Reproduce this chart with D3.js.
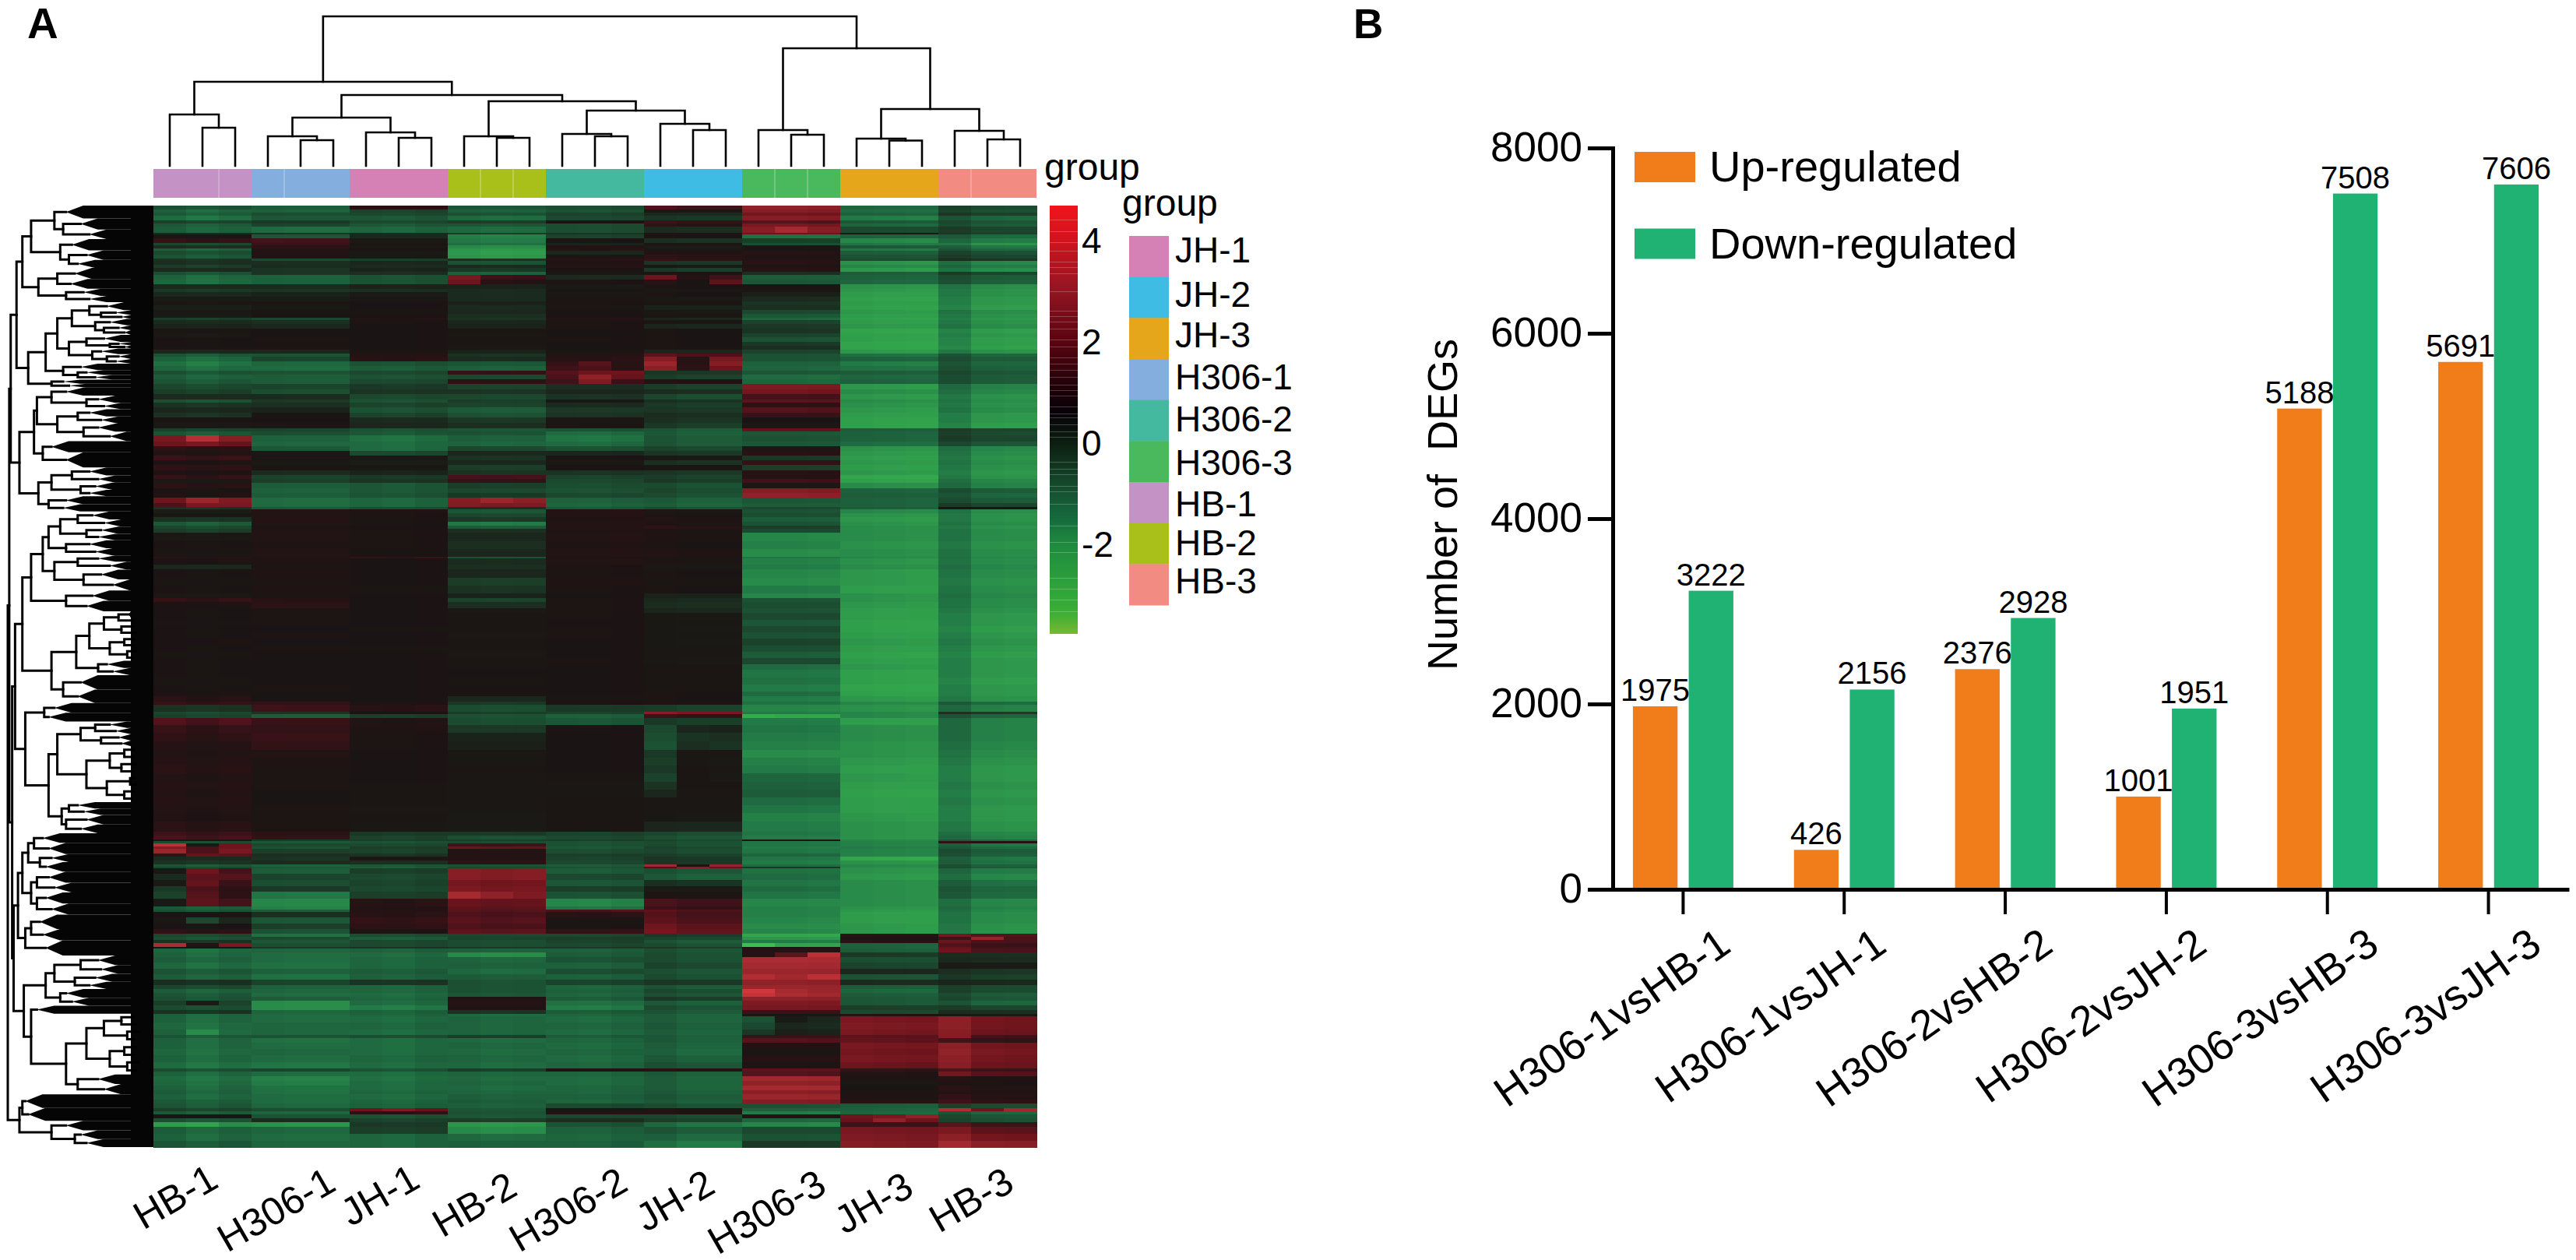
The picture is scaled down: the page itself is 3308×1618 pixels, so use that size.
<!DOCTYPE html>
<html>
<head>
<meta charset="utf-8">
<title>DEGs heatmap</title>
<script src="https://cdnjs.cloudflare.com/ajax/libs/d3/7.8.5/d3.min.js"></script>
<style>
  body { margin: 0; background: #fff; }
  text { font-family: "Liberation Sans", Arial, sans-serif; fill: #000; }
</style>
</head>
<body>
<div id="chart"></div>
<script>
// ---- panel A data ----
const sampleGroups = ["HB-1", "H306-1", "JH-1", "HB-2", "H306-2", "JH-2", "H306-3", "JH-3", "HB-3"];
const groupColors = ["#c492c4", "#84aedd", "#d581b5", "#a9c01b", "#44b9a0", "#3fbce4", "#4ab85c", "#e6a61c", "#f28c83"];
const legendGroups = ["JH-1", "JH-2", "JH-3", "H306-1", "H306-2", "H306-3", "HB-1", "HB-2", "HB-3"];
const scaleTicks = [4, 2, 0, -2];

// colour key values
const keyValues = [4.67, 4, 3, 2, 1, 0.6, 0, -1, -1.5, -2, -3, -3.4, -3.78];
const keyColors = ["#f0141c", "#d0141e", "#921522", "#5a0410", "#1a0208", "#080208", "#0c1e10", "#165232", "#156a3c", "#1f8a3f", "#2fa83a", "#3fae35", "#78b832"];
const keyStripes = [4.39, 4.17, 3.95, 3.78, 3.56, 3.45, 3.34, 2.98, 2.6, 2.49, 2.38, 2.24, 2.02, 1.88, 1.67, 1.55, 1.42, 1.28, 1.14, 1.03, 0.92, 0.7, 0.56, 0.48, 0.34, 0.21, 0.1, -0.39, -0.53, -0.64, -0.87, -0.98, -1.22, -1.66, -1.97, -2.18, -2.68, -2.9, -3.12, -3.34];

// how the cells look in the heatmap itself (a bit paler than the key)
const heatValues = [-3.6, -3, -2.6, -2, -1.5, -1, -0.5, 0, 0.5, 1, 1.5, 2, 3, 4];
const heatColors = ["#3cc04a", "#34a84c", "#2f9c4c", "#227a46", "#1d603c", "#1b482e", "#1b2e20", "#1a1c16", "#1b1414", "#271214", "#44121a", "#6e141c", "#a52a30", "#dc3a40"];

// small shift of each replicate inside its group
const replicateShift = [0.1, -0.2, 0.05, 0, -0.05, -0.05, 0, -0.1, 0.1, 0.05, -0.05, 0, 0, -0.05, 0.1, 0.25, 0, 0, 0, 0, -0.05, 0, -0.05, -0.1, 0.35, -0.1, -0.15];
const seamColumns = [2, 4, 10, 11, 19, 20, 25];

// [genes in band, then one value per group; a nested array gives the three replicates]
const heatBands = [
  [5, -1.2, -1.4, 0.9, -1.3, -1.1, 1.4, 2.6, -1.6, -1.0],
  [4, -1.6, -1.5, -0.9, -1.5, -1.2, 0.3, 2.4, -1.7, -1.1],
  [4, -1.4, -1.1, -1.0, -1.2, -0.9, -0.4, 2.1, -1.5, -0.8],
  [6, -1.8, -1.3, -1.3, -1.7, -1.0, -0.7, 2.4, -2.0, -1.5],
  [3, -0.9, -0.7, -1.0, -0.8, 0.5, 1.2, 1.7, -1.3, -1.2],
  [4, -1.4, -0.9, -1.3, -1.3, -1.1, 1.0, 2.2, -1.6, -1.3],
  [8, -1.5, -1.7, -1.6, -1.7, -1.1, -0.5, [2.4, 3.0, 2.4], -1.0, -0.9],
  [2, -0.4, -0.6, -0.4, -0.8, -0.6, 0.6, 2.0, 0.3, -0.8],
  [5, 0.4, -1.3, -0.3, -2.1, -0.9, 0.5, -1.8, -1.5, -1.6],
  [6, 1.2, 1.5, 0.2, -2.0, 0.6, -0.6, -0.8, -2.2, -1.9],
  [3, -1.0, 1.3, 0.4, -1.8, -0.2, 0.4, -1.1, -1.9, -2.3],
  [4, -0.5, 1.1, 0.3, -2.3, 0.8, 0.1, 0.7, -1.3, -1.8],
  [3, -1.5, 0.9, 0.5, -2.5, 1.0, 0.3, 0.5, -1.9, -1.5],
  [5, -1.1, 0.8, 0.2, -2.6, -0.3, 0.7, 1.0, -1.4, -1.1],
  [4, -1.3, 0.9, 0.3, -2.5, 0.4, 1.0, 0.7, -1.2, -0.9],
  [3, -0.6, -1.0, -0.8, -0.6, 1.0, 1.1, 0.9, -1.0, -0.6],
  [5, -0.5, -0.5, -0.3, -1.2, 0.7, -0.7, 1.0, -2.4, -2.1],
  [4, -0.8, -0.4, -0.4, -0.4, 0.9, 0.2, 0.7, -2.2, -1.9],
  [5, -0.4, -0.6, -0.2, -0.7, 0.5, -0.8, 1.0, -2.5, -2.2],
  [4, -1.2, -0.6, -0.5, -1.5, 0.3, 0.4, -0.5, -1.4, -0.9],
  [6, -1.6, -1.5, -1.2, [2.2, 1.4, 1.3], -0.4, [2.0, 0.9, 1.4], -1.4, -1.5, -1.3],
  [6, -1.7, -1.5, -1.2, [2.0, 1.0, 0.8], 0.6, [1.0, 0.5, 1.8], -1.3, -1.6, -1.4],
  [6, -0.4, -0.4, -0.2, -0.2, 0.2, 0.5, 0.5, -2.4, -2.2],
  [4, -0.7, -0.6, -0.5, -0.4, 0.4, 0.3, 0.6, -2.5, -2.3],
  [5, -0.3, -0.2, 0.1, -0.4, 0.3, 0.5, -0.1, -2.6, -2.3],
  [6, 0.1, 0.0, 0.3, -0.4, 0.4, 0.2, -0.4, -2.7, -2.4],
  [5, 0.3, 0.4, 0.5, -0.2, 0.6, 0.4, -0.6, -2.6, -2.4],
  [6, -0.1, 0.2, 0.5, -0.4, 0.4, -0.2, -0.5, -2.7, -2.5],
  [5, 0.2, 0.4, 0.4, -0.3, 0.5, 0.2, -1.0, -2.5, -2.2],
  [5, 0.1, 0.5, 0.5, -0.5, 0.5, 0.4, -1.3, -2.6, -2.3],
  [3, -0.8, -1.0, 0.8, -0.6, 0.9, -0.3, -1.6, -2.7, -2.4],
  [5, -0.4, -0.5, 0.6, -0.3, 0.6, 0.4, -0.9, -2.6, -2.3],
  [5, -0.2, -0.3, 0.5, -0.2, 0.6, -0.3, -0.7, -2.5, -2.2],
  [6, 0.4, 0.5, 0.5, 0.4, 0.5, 0.5, -0.6, -2.8, -2.5],
  [5, 0.3, 0.5, 0.5, 0.3, 0.5, 0.5, -0.9, -2.7, -2.4],
  [6, 0.5, 0.6, 0.5, 0.4, 0.6, 0.5, -1.2, -2.7, -2.5],
  [5, 0.5, 0.5, 0.5, 0.4, 0.5, 0.5, -0.7, -2.8, -2.5],
  [5, 0.4, 0.6, 0.5, 0.3, 0.5, 0.4, -0.5, -2.8, -2.6],
  [5, -0.3, -0.3, 0.4, -0.2, 0.4, -0.3, -0.9, -2.5, -2.3],
  [4, -1.3, -1.2, 0.9, -0.6, 0.8, 1.6, -1.2, -1.8, -1.5],
  [6, -1.6, -0.9, 1.0, -0.4, 1.0, [2.4, 1.0, 2.2], -1.2, -1.5, -1.3],
  [5, -1.9, -1.6, -1.2, -1.3, [1.2, 1.7, 1.0], [2.8, 1.0, 2.4], -1.5, -2.0, -1.5],
  [6, -1.7, -1.7, -1.4, -1.5, [1.4, 1.6, 1.0], [2.5, 1.1, 2.0], -1.6, -1.8, -1.4],
  [5, -1.2, -1.2, -1.0, 1.2, [1.7, 2.0, 2.0], -0.7, -1.3, -1.4, -1.2],
  [6, -1.5, -1.4, -1.2, -1.0, [1.6, 2.6, 1.9], -0.9, -1.7, -1.6, -1.3],
  [6, -1.3, -1.4, -1.0, 1.1, [1.4, 2.3, 1.3], 0.7, -1.6, -1.5, -1.3],
  [7, -1.0, -0.9, -0.7, -0.9, -0.5, -0.9, 2.3, -2.5, -2.0],
  [6, -0.8, -1.1, -0.6, -0.6, -0.3, -0.5, 2.1, -2.3, -2.1],
  [6, -0.4, -0.4, -1.0, -1.0, -0.6, -1.1, 1.5, -2.5, -2.3],
  [4, -1.2, -0.7, -1.2, -0.8, 0.3, -0.6, 1.8, -2.3, -2.2],
  [6, -0.6, -0.5, -0.9, -0.9, -0.4, -0.8, 1.1, -2.4, -2.3],
  [7, -0.3, -0.2, -1.2, -1.4, -0.7, -0.7, 1.7, -2.5, -2.2],
  [6, -0.6, 0.4, -0.9, -1.2, -0.6, -0.5, 1.3, -2.6, -2.4],
  [7, 0.4, 0.5, -0.4, -0.7, 0.3, -0.6, 0.5, -2.7, -2.4],
  [7, 0.2, 0.3, -0.3, -0.5, 0.4, -0.8, 0.3, -2.7, -2.5],
  [4, -0.9, -0.9, -1.2, -1.3, -1.2, -1.4, 1.9, -1.4, -0.9],
  [4, -1.3, -1.1, -1.3, -1.2, -1.7, -1.5, -1.3, -1.5, -1.0],
  [8, [2.2, 3.3, 2.4], -1.5, -1.8, -1.5, -1.9, -1.4, -1.2, -1.5, -0.9],
  [6, [2.0, 2.2, 1.9], -1.6, -1.7, -1.6, -1.7, -1.4, -1.3, -1.7, -1.2],
  [6, 1.0, -1.3, -1.7, -1.0, -1.2, -1.0, 0.8, -2.4, -2.1],
  [6, 0.8, 0.3, -1.0, -0.3, -0.3, -0.7, 1.0, -2.5, -2.2],
  [6, 1.3, 0.4, 0.2, -0.6, 0.6, 0.2, -0.7, -2.6, -2.3],
  [6, 0.6, 0.2, 0.0, -0.3, 0.2, -0.6, 1.2, -2.5, -2.2],
  [6, 1.1, 0.4, 0.3, -0.8, 0.5, 0.4, -0.8, -2.6, -2.3],
  [6, 0.7, -0.4, -0.2, -0.6, -0.6, -0.7, 1.0, -2.5, -2.4],
  [5, 1.2, -0.9, -0.7, 1.5, -0.9, -0.9, 0.9, -2.9, -2.3],
  [5, 0.2, -0.8, -0.6, 1.2, -1.0, -0.8, 1.4, -2.7, -2.1],
  [7, 1.0, -1.4, -1.3, -0.8, -1.1, -1.2, 0.3, -2.3, -2.0],
  [6, 0.5, -1.5, -1.3, -1.0, -1.2, -1.1, 2.4, -1.5, -1.3],
  [6, 0.7, -1.4, -1.2, -0.7, -1.0, -1.2, 2.6, -1.4, -1.5],
  [6, [2.0, 2.8, 2.3], -1.7, -1.6, [2.4, 2.8, 2.5], -1.5, -1.5, -1.3, -1.5, -1.3],
  [5, [1.6, 2.2, 2.2], -1.7, -1.6, 2.3, -1.6, -1.6, -1.4, -1.5, -0.9],
  [3, -0.6, -1.3, -1.1, -0.5, -1.3, -1.2, -1.0, -1.4, 0.6],
  [5, 0.0, 0.9, 0.7, -1.3, 0.8, 0.3, -1.2, -2.2, -2.2],
  [5, 0.4, 0.8, 0.6, -1.0, 0.9, 0.5, -1.1, -2.4, -2.3],
  [6, -0.6, 0.9, 0.6, -0.7, 0.7, 0.7, -1.4, -2.5, -2.3],
  [5, -1.4, 0.8, 0.6, -2.0, 0.8, 0.6, -1.2, -2.4, -2.2],
  [4, -1.0, 0.7, 0.5, -1.4, 0.9, 1.0, -0.8, -2.3, -2.3],
  [5, -0.8, 0.8, 0.6, -0.5, 0.7, 0.6, -1.0, -2.3, -2.2],
  [10, 0.3, 0.8, 0.6, -0.3, 0.8, 0.6, -2.2, -2.3, -2.2],
  [10, 0.5, 0.7, 0.6, -0.5, 0.7, 0.5, -2.1, -2.4, -2.3],
  [10, 0.4, 0.8, 0.5, -0.3, 0.8, 0.7, -2.3, -2.3, -2.2],
  [2, 1.0, 0.7, 1.2, -1.2, 0.6, 0.4, -1.9, -2.2, -2.1],
  [8, 0.6, 0.7, 0.5, -0.4, 0.8, 0.6, -2.1, -2.4, -2.2],
  [6, -0.3, 0.6, 0.5, -0.5, 0.6, 0.3, -2.0, -2.3, -2.1],
  [10, 0.5, 0.7, 0.5, -0.3, 0.6, 0.5, -2.2, -2.5, -2.2],
  [10, 0.4, 0.6, 0.5, -0.8, 0.7, 0.4, -2.3, -2.5, -2.3],
  [10, 0.5, 0.7, 0.4, -0.6, 0.6, 0.5, -2.0, -2.6, -2.2],
  [6, 0.3, 0.6, 0.5, -0.2, 0.5, -0.2, -2.2, -2.4, -2.1],
  [5, 1.2, 1.0, 0.5, -0.9, 0.6, -0.4, -1.2, -2.4, -2.2],
  [7, 0.6, 1.1, 0.5, -0.5, 0.6, -0.5, -1.1, -2.5, -2.2],
  [6, 0.5, 0.6, 0.5, 0.2, 0.6, -0.3, -1.2, -2.6, -2.3],
  [9, 0.5, 0.6, 0.5, 0.4, 0.6, 0.2, -1.0, -2.6, -2.4],
  [8, 0.4, 0.6, 0.5, 0.4, 0.5, 0.3, -1.3, -2.7, -2.4],
  [8, 0.5, 0.5, 0.4, 0.4, 0.6, 0.2, -1.0, -2.7, -2.5],
  [8, 0.5, 0.6, 0.5, 0.3, 0.6, 0.3, -1.2, -2.6, -2.4],
  [8, 0.6, 0.5, 0.5, 0.4, 0.5, 0.2, -0.9, -2.5, -2.3],
  [8, 0.5, 0.6, 0.4, 0.4, 0.5, 0.3, -1.1, -2.6, -2.4],
  [8, 0.4, 0.5, 0.5, 0.3, 0.5, 0.3, -1.4, -2.7, -2.5],
  [8, 0.5, 0.5, 0.5, 0.4, 0.6, 0.2, -1.0, -2.6, -2.4],
  [7, 0.5, 0.5, 0.5, 0.4, 0.5, 0.4, -1.7, -2.5, -2.4],
  [9, 0.5, 0.5, 0.5, 0.5, 0.5, 0.4, -1.9, -2.7, -2.4],
  [9, 0.4, 0.5, 0.5, 0.4, 0.5, 0.4, -1.8, -2.7, -2.5],
  [9, 0.5, 0.6, 0.5, 0.5, 0.5, 0.4, -2.0, -2.8, -2.4],
  [6, 0.6, 0.5, 0.5, 0.4, 0.5, 0.5, -1.7, -2.7, -2.4],
  [7, 1.0, 0.5, 0.5, -0.3, 0.4, 0.5, -2.0, -2.5, -2.3],
  [4, 1.2, 1.2, 0.6, -0.7, 0.6, 0.6, -1.8, -2.2, -1.6],
  [8, -0.6, 1.4, 1.0, -1.1, -0.7, -0.9, -2.2, -2.4, -2.0],
  [3, -1.0, -0.6, 0.5, -0.8, -0.9, 2.2, -2.0, -2.2, -0.7],
  [5, -0.9, -1.4, -0.8, -1.2, -1.5, 1.2, [-3.1, -2.9, -2.9], -2.2, -1.5],
  [9, 1.6, 1.3, 0.8, -1.1, -1.3, -0.8, -2.0, -2.6, -2.0],
  [10, 1.2, 1.2, 0.7, -0.7, 0.6, [-1.0, -0.3, -0.2], -1.9, -2.3, -2.0],
  [11, 1.1, 1.3, 0.6, -0.2, 0.5, [-1.1, -0.6, -0.5], -2.0, -2.3, -2.0],
  [10, 0.9, 1.2, 0.6, -0.1, 0.5, [-1.2, -0.5, -0.6], -2.1, -2.4, -2.1],
  [10, 0.8, 0.8, 0.5, 0.3, 0.5, [-0.7, 0.3, 0.3], -2.3, -2.4, -2.2],
  [10, 0.9, 0.7, 0.5, 0.3, 0.5, [-0.8, 0.3, 0.2], -2.1, -2.5, -2.3],
  [10, 1.0, 0.6, 0.5, 0.4, 0.5, [-0.7, 0.4, 0.3], -2.0, -2.6, -2.4],
  [10, 0.8, 0.6, 0.5, 0.3, 0.4, [-0.9, 0.4, 0.2], -1.6, -2.5, -2.4],
  [10, 0.9, 0.6, 0.4, 0.3, 0.3, [-0.6, 0.4, 0.4], -1.5, -2.6, -2.3],
  [10, 0.8, 0.5, 0.4, 0.3, 0.3, [-0.3, 0.3, 0.3], -1.4, -2.7, -2.4],
  [10, 0.9, 0.5, 0.4, 0.3, 0.4, 0.3, -1.7, -2.6, -2.3],
  [10, 0.8, 0.6, 0.3, 0.3, 0.4, 0.3, -1.9, -2.6, -2.4],
  [10, 0.7, 0.6, 0.4, 0.2, 0.4, 0.2, -2.1, -2.5, -2.4],
  [13, 1.0, 0.6, 0.3, 0.2, 0.4, -0.3, -2.0, -2.4, -2.3],
  [5, 1.3, 1.1, -0.7, -0.7, -0.9, -1.1, -1.9, -2.4, -2.1],
  [5, 1.5, 1.2, -0.9, -1.2, -1.0, -1.3, -2.0, -2.4, -2.0],
  [2, 0.6, -0.7, -0.8, -0.8, -0.8, -1.0, 0.7, -2.2, -1.6],
  [3, -1.1, -1.3, -1.2, -1.1, -1.2, -1.2, -1.9, -2.1, 1.0],
  [4, [3.4, 0.3, 2.0], -1.0, -1.0, 1.4, -1.2, -1.2, -1.9, -2.1, -1.8],
  [3, [2.4, 1.6, 2.0], -1.2, -0.8, 1.9, -1.3, -1.0, -2.0, -2.0, -1.6],
  [5, [2.8, 1.6, 2.2], -0.8, -0.9, 0.9, -1.1, -1.1, -1.9, -2.1, -1.3],
  [4, [1.2, 1.9, 1.8], -0.5, -0.6, 0.8, -0.8, -0.9, -1.6, -2.1, -1.4],
  [5, -0.4, -0.6, 0.3, 0.9, -0.9, -0.7, -1.9, -2.9, -1.8],
  [5, -0.6, -0.4, -0.5, 1.1, -1.0, -0.7, -2.0, -2.4, -1.7],
  [3, -1.3, -1.5, -1.3, -1.2, -1.4, [2.9, 0.7, 2.7], -1.7, -2.2, -1.4],
  [2, -1.0, -1.3, -1.4, -1.0, -1.2, [1.6, 2.4, 1.9], -0.7, -2.3, -1.3],
  [7, [0.3, 2.0, 1.5], -1.4, -0.8, 2.4, -1.4, -1.3, -1.8, -2.4, -1.9],
  [8, [-0.4, 1.8, 1.7], -0.9, -1.0, 2.4, -1.0, -1.5, -1.7, -2.5, -2.1],
  [7, [0.2, 1.9, 1.3], -1.1, -0.9, 2.1, -1.3, -0.6, -1.9, -2.3, -1.7],
  [7, [-0.7, 1.6, 1.1], -0.7, -1.0, 2.2, -0.8, 0.1, -1.7, -2.3, -1.5],
  [9, [-0.9, 1.7, 1.1], -1.9, -0.8, [3.0, 2.6, 2.3], -1.2, 0.6, -1.9, -2.3, -1.6],
  [10, [0.2, 1.8, 1.5], -2.2, 1.0, 1.9, -2.2, 1.4, -2.2, -2.3, -2.1],
  [4, -1.4, -2.1, 0.8, 1.8, -1.9, 1.2, -2.1, -2.4, -2.0],
  [3, -1.2, -1.4, 0.9, 1.7, 1.6, 1.6, -2.1, -2.5, -2.1],
  [7, 0.6, -0.5, 1.0, 1.6, 1.0, 1.5, -2.1, -2.6, -2.2],
  [7, [0.3, -1.0, -0.3], -1.3, 1.2, 1.7, 0.4, 1.6, -2.2, -2.6, -2.2],
  [7, 0.5, -0.8, 1.1, 1.6, 0.6, 1.8, -2.3, -2.5, -2.3],
  [6, 1.1, -1.2, 0.6, 1.8, 1.2, 1.9, -2.2, -2.5, -2.3],
  [4, -1.0, -1.8, -1.1, -1.0, -1.0, -0.8, -2.9, 1.0, 1.8],
  [4, -1.2, -1.0, -1.4, -0.9, -0.8, -1.0, -2.5, 0.7, [1.4, 2.7, 1.6]],
  [4, -0.6, -1.3, -1.0, -1.1, -0.9, -1.4, -2.0, 1.0, 1.7],
  [5, [3.1, 0.8, 2.2], -1.1, -1.0, -1.1, -1.0, -1.2, [-3.6, -2.8, -2.8], -1.5, 1.4],
  [2, 0.6, -0.7, -0.6, -0.7, -0.7, -0.8, 0.4, -1.5, 1.6],
  [5, -1.7, -1.6, -1.5, -1.5, -1.5, -1.3, 0.9, -1.4, 1.7],
  [5, -1.6, -1.7, -1.7, -2.3, -1.4, -1.2, [0.9, 1.8, 3.4], -0.7, -0.5],
  [7, -1.5, -1.7, -1.6, -1.6, -1.2, -1.2, 3.1, -1.1, -0.4],
  [8, -1.7, -1.8, -1.6, -1.5, -1.5, -1.0, 3.0, -0.9, 0.1],
  [7, -1.3, -1.5, -1.4, -1.7, -1.1, -1.3, 2.8, -0.3, -0.6],
  [7, -1.5, -1.8, -1.5, -1.4, -1.5, -1.2, [3.2, 2.9, 3.4], -1.2, -0.8],
  [7, -0.5, -0.9, -0.6, -1.2, -0.9, -0.7, 2.6, -0.4, -0.3],
  [5, -1.0, -1.5, -1.6, -1.2, -1.6, -1.4, 2.8, -1.4, -1.0],
  [4, -1.5, -1.6, -1.6, -1.2, -1.5, -1.1, [3.8, 3.0, 2.8], -1.6, -1.0],
  [5, -1.3, -1.7, -1.7, -1.3, -1.6, -1.3, [3.6, 3.1, 2.9], -1.4, -1.3],
  [5, -1.2, -1.4, -1.6, 0.7, -1.4, -0.8, 2.6, -1.3, -1.2],
  [6, [-0.8, 0.1, -0.9], -2.3, -1.7, 0.9, -1.8, -1.5, 2.3, -1.3, -1.5],
  [6, -1.1, -2.3, -2.0, 0.7, -2.0, -1.2, 2.2, -0.8, -0.9],
  [5, -0.6, -1.6, -1.5, -0.6, -1.4, -1.4, 1.3, -1.0, -0.5],
  [3, -1.6, -1.7, -1.6, -1.7, -1.6, -1.6, 0.4, 0.8, 0.2],
  [8, -1.6, -1.7, -1.7, -1.6, -1.7, -1.6, [-1.2, 0.1, -0.3], 2.2, 2.2],
  [8, -1.7, -1.6, -1.6, -1.6, -1.6, -1.5, [-1.0, -0.3, -0.4], 2.3, 2.2],
  [7, [-1.5, -2.3, -1.7], -1.6, -1.7, -1.6, -1.7, -1.6, [-0.7, -0.1, -0.2], 2.2, 2.1],
  [4, -1.3, -1.2, -1.1, -0.8, -1.4, -1.5, 1.3, 1.8, [2.4, 1.5, 1.4]],
  [6, -1.6, -1.8, -1.7, -1.7, -1.6, -1.5, 1.7, 1.9, 1.3],
  [8, -1.6, -1.7, -1.7, -1.6, -1.7, -1.6, 0.7, 2.2, 2.2],
  [8, -1.7, -1.6, -1.7, -1.7, -1.6, -1.7, 0.4, 2.1, 2.3],
  [8, -1.6, -1.7, -1.6, -1.6, -1.7, -1.5, 0.9, 2.2, 2.2],
  [8, -1.8, -1.9, -1.7, -1.7, -1.6, -1.3, 0.6, 2.0, 2.1],
  [4, -1.1, -0.9, -1.2, -0.8, 0.7, 0.9, 1.8, 1.2, 1.4],
  [6, -1.6, -1.7, -1.7, -1.6, -1.6, -1.5, 1.7, 0.8, 1.8],
  [6, -1.8, -2.1, -1.8, -1.7, -1.7, -1.6, 2.9, 0.6, 0.8],
  [6, -1.7, -2.0, -1.7, -1.6, -1.7, -1.6, 2.6, 0.3, 0.6],
  [6, -1.6, -1.8, -1.7, -1.7, -1.6, -1.6, 3.0, 0.5, 0.9],
  [5, -1.5, -1.8, -1.6, -1.6, -1.6, -1.5, 2.5, 0.6, 0.8],
  [6, -1.6, -1.7, -1.7, -1.5, -1.5, -1.4, 2.8, 0.7, 1.0],
  [5, -1.4, -1.7, -1.6, -1.4, -1.6, -1.5, 2.4, 0.9, 1.2],
  [6, -1.3, -1.6, -1.5, -1.5, -1.0, -1.2, -1.2, -1.4, -1.0],
  [4, -0.9, -1.1, [2.0, 2.3, 1.9], -1.3, 0.4, 0.7, -1.5, -1.5, [3.2, 2.0, 2.9]],
  [4, -1.4, -1.6, 1.0, -1.2, 0.8, 0.7, -2.0, -1.6, -1.5],
  [5, 0.5, -1.2, -1.2, -1.3, -1.0, -1.1, 0.9, [2.0, 2.2, 2.6], -1.2],
  [5, -1.2, -0.4, -0.9, -0.8, -0.5, -0.9, -1.6, [1.9, 2.6, 2.0], -1.1],
  [6, [-2.6, -2.8, -2.3], -2.4, -0.7, -2.5, -1.2, -1.9, -2.2, 1.4, 1.5],
  [8, -1.5, -1.6, -0.8, -2.3, -1.5, -1.4, -1.0, 2.2, 1.9],
  [9, -1.6, -1.7, -1.6, -1.7, -1.6, -1.7, -1.2, 2.3, 2.2],
  [8, -1.3, -1.6, -1.6, -1.5, -1.5, -2.0, -0.7, 2.4, 2.6]
];

// row dendrogram: [distance, upper, lower] or, at the tips, [distance, genes]
const rowTree =
  [100,
    [99,
      [98,
        [94,
          [90,
            [84, [68, [60, 16], [62, [50, 14], [44, 12]]], [64, [56, 14], [58, [46, 12], [52, 10]]]],
            [79, [66, [54, 14], [57, 12]], [60, [48, 9], [44, 8]]]
          ],
          [86,
            [74,
              [66,
                [56, [44, [32, 10], [36, [26, 6], [22, 5]]], [40, [30, 8], [34, [24, 6], [20, 6]]]],
                [58, [46, [34, 9], [30, [24, 4], [20, 4]]], [42, [36, 7], [32, [24, 6], [26, 6]]]]
              ],
              [62, [50, 8], [52, [46, 6], [40, 6]]]
            ],
            [70, [62, 5], [58, 5]]
          ]
        ],
        [92,
          [82, [80, [70, [60, 10], [46, [38, 9], [34, 8]]], [66, [52, [44, 9], [36, 9]], [48, [38, 10], [30, 12]]]], [76, [70, 14], [60, 19]]],
          [79, [70, [56, [44, 10], [38, 9]], [50, [40, 9], [44, 8]]], [72, [60, 10], [62, 9]]]
        ]
      ],
      [97,
        [95,
          [90,
            [84,
              [76,
                [72, [64, [52, [42, 10], [34, 9]], [46, [36, 9], [38, 8]]], [60, [44, 10], [40, 9]]],
                [68, [52, [38, 8], [30, 10]], [48, [36, 12], [28, 14]]]
              ],
              [60, [42, 13], [46, 13]]
            ],
            [70,
              [53, [44, [34, [24, [17, 8], [14, 7]], [22, [14, 8], [12, 8]]], [30, [20, [13, 8], [14, 7]], [18, [12, 8], [15, 8]]]], [38, [32, 9], [28, 9]]],
              [62, [50, 18], [52, 17]]
            ]
          ],
          [88,
            [75, [68, 12], [72, 11]],
            [72,
              [66, [50, [40, [30, 8], [26, 8]], [36, [24, 8], [22, 7]]], [46, [30, [20, [13, 9], [14, 9]], [22, [12, 9], [14, 9]]], [32, [16, [13, 8], [12, 8]], [20, [14, 9], [15, 9]]]]],
              [63, [58, [52, 8], [48, 8]], [60, [46, 12], [50, 11]]]
            ]
          ]
        ],
        [96,
          [93,
            [90, [86, [82, [76, 12], [72, 14]], [78, [70, 10], [74, 12]]], [84, [80, [72, 14], [68, 12]], [80, [74, 14], [70, 14]]]],
            [88, [84, [78, 18], [76, 14]], [74, 19]]
          ],
          [89,
            [74, [68, [50, [38, 12], [36, 11]], [54, [40, 10], [44, 9]]], [64, [60, 11], [56, 10]]],
            [84,
              [80, 10],
              [60, [46, [34, [22, [14, 9], [12, 9]], [18, [10, 9], [13, 10]]], [30, [20, [12, 10], [14, 9]], [18, [10, 10], [12, 10]]]], [52, [38, 12], [34, 13]]]
            ]
          ]
        ]
      ]
    ],
    [92, [90, [88, 17], [86, 16]], [70, [60, 12], [54, [50, 11], [46, 10]]]]
  ];

// column dendrogram: [distance, left, right], tips are column numbers
const colTree =
  [192,
    [108,
      [66, 0, [49, 1, 2]],
      [91,
        [62, [38, 3, [33, 4, 5]], [43, 6, [36, 7, 8]]],
        [83, [38, 9, [36, 10, 11]], [71, [41, 12, [38, 13, 14]], [54, 15, [46, 16, 17]]]]
      ]
    ],
    [151,
      [46, 18, [40, 19, 20]],
      [73, [35, 21, [32.5, 22, 23]], [45, 24, [34, 25, 26]]]
    ]
  ];

// ---- panel B data ----
const comparisons = ["H306-1vsHB-1", "H306-1vsJH-1", "H306-2vsHB-2", "H306-2vsJH-2", "H306-3vsHB-3", "H306-3vsJH-3"];
const upRegulated = [1975, 426, 2376, 1001, 5188, 5691];
const downRegulated = [3222, 2156, 2928, 1951, 7508, 7606];
const seriesNames = ["Up-regulated", "Down-regulated"];
const seriesColors = ["#f07d1a", "#1fb273"];
const degTicks = [0, 2000, 4000, 6000, 8000];

// ---- page ----
const width = 3308;
const height = 1618;

const svg = d3.select("#chart").append("svg")
  .attr("width", width)
  .attr("height", height)
  .style("display", "block");

svg.append("text").attr("x", 35).attr("y", 49).attr("font-size", 55).attr("font-weight", "bold").text("A");
svg.append("text").attr("x", 1738).attr("y", 49).attr("font-size", 53).attr("font-weight", "bold").text("B");

// ---- panel A ----
const heatLeft = 197;
const heatRight = 1331;
const heatTop = 264;
const heatBottom = 1473;

const columns = d3.range(27);
const xCol = d3.scaleBand().domain(columns).range([heatLeft, heatRight]);
const xGroup = d3.scaleBand().domain(sampleGroups).range([heatLeft, heatRight]);

const heatColor = d3.scaleLinear().domain(heatValues).range(heatColors).clamp(true);
const keyColor = d3.scaleLinear().domain(keyValues).range(keyColors);

// heatmap cells
const geneEdges = d3.cumsum(heatBands, d => d[0]);
const yGene = d3.scaleLinear().domain([0, geneEdges[geneEdges.length - 1]]).range([heatTop, heatBottom]);

const cellValue = (band, col) => {
  const v = band[1 + Math.floor(col / 3)];
  if (Array.isArray(v)) return v[col % 3];
  return v + replicateShift[col] * Math.min(1, Math.abs(v) / 2);
};

const heatGroup = svg.append("g").attr("shape-rendering", "crispEdges");
heatBands.forEach((band, i) => {
  const top = yGene(i === 0 ? 0 : geneEdges[i - 1]);
  const bottom = yGene(geneEdges[i]);
  heatGroup.selectAll(null)
    .data(columns)
    .enter()
    .append("rect")
    .attr("x", d => xCol(d))
    .attr("y", top)
    .attr("width", xCol.bandwidth() + 0.5)
    .attr("height", bottom - top + 0.5)
    .attr("fill", d => heatColor(cellValue(band, d)));
});

// annotation bar
const annoTop = 217;
const annoBottom = 254;
svg.append("g").selectAll("rect")
  .data(sampleGroups)
  .enter()
  .append("rect")
  .attr("x", d => xGroup(d))
  .attr("y", annoTop)
  .attr("width", xGroup.bandwidth())
  .attr("height", annoBottom - annoTop)
  .attr("fill", (d, i) => groupColors[i]);

svg.append("g").selectAll("line")
  .data(seamColumns)
  .enter()
  .append("line")
  .attr("x1", d => xCol(d))
  .attr("x2", d => xCol(d))
  .attr("y1", annoTop)
  .attr("y2", annoBottom)
  .attr("stroke", "#fff")
  .attr("stroke-opacity", 0.3)
  .attr("stroke-width", 1.5);

// column dendrogram
const yDist = d3.scaleLinear().domain([0, 192]).range([213, 21]);
const colRoot = d3.hierarchy(colTree, d => Array.isArray(d) ? d.slice(1) : null);
colRoot.eachAfter(n => {
  if (n.children) {
    n.px = d3.mean(n.children, c => c.px);
    n.py = yDist(n.data[0]);
  } else {
    n.px = xCol(n.data) + xCol.bandwidth() / 2;
    n.py = yDist(0);
  }
});
svg.append("g").selectAll("path")
  .data(colRoot.descendants().filter(n => n.children))
  .enter()
  .append("path")
  .attr("fill", "none")
  .attr("stroke", "#000")
  .attr("stroke-width", 2.6)
  .attr("stroke-linecap", "square")
  .attr("d", n => {
    const [a, b] = n.children;
    return `M${a.px},${a.py}V${n.py}H${b.px}V${b.py}`;
  });

// row dendrogram
const xDist = d3.scaleLinear().domain([0, 100]).range([heatLeft, 10]);
const isTip = d => typeof d[1] === "number";
const rowRoot = d3.hierarchy(rowTree, d => isTip(d) ? null : d.slice(1));
const rowTotal = d3.sum(rowRoot.leaves(), n => n.data[1]);
const yTree = d3.scaleLinear().domain([0, rowTotal]).range([heatTop, heatBottom]);
let genesSoFar = 0;
rowRoot.eachAfter(n => {
  n.px = xDist(n.data[0]);
  if (n.children) {
    n.py = d3.mean(n.children, c => c.py);
  } else {
    n.topY = yTree(genesSoFar);
    genesSoFar += n.data[1];
    n.botY = yTree(genesSoFar);
    n.py = (n.topY + n.botY) / 2;
  }
});

const treeGroup = svg.append("g");
const wedgeRun = 22;
const wedgeLimit = 168;

treeGroup.append("rect")
  .attr("x", wedgeLimit)
  .attr("y", heatTop)
  .attr("width", heatLeft - wedgeLimit)
  .attr("height", heatBottom - heatTop)
  .attr("fill", "#050505");

treeGroup.selectAll(".wedge")
  .data(rowRoot.leaves())
  .enter()
  .append("path")
  .attr("class", "wedge")
  .attr("fill", "#050505")
  .attr("d", n => {
    const tip = Math.min(n.px + wedgeRun, wedgeLimit);
    return `M${n.px},${n.py}L${tip},${n.topY}H${wedgeLimit}V${n.botY}H${tip}Z`;
  });

treeGroup.selectAll(".bracket")
  .data(rowRoot.descendants().filter(n => n.children))
  .enter()
  .append("path")
  .attr("class", "bracket")
  .attr("fill", "none")
  .attr("stroke", "#000")
  .attr("stroke-width", 3)
  .attr("stroke-linecap", "square")
  .attr("d", n => {
    const [a, b] = n.children;
    return `M${a.px},${a.py}H${n.px}V${b.py}H${b.px}`;
  });

// colour key
const keyLeft = 1348;
const keyRight = 1384;
const yKey = d3.scaleLinear().domain([4.67, -3.78]).range([264.7, 813.6]);
const keyGroup = svg.append("g").attr("shape-rendering", "crispEdges");
keyGroup.selectAll("rect")
  .data(d3.range(264, 814))
  .enter()
  .append("rect")
  .attr("x", keyLeft)
  .attr("y", d => d)
  .attr("width", keyRight - keyLeft)
  .attr("height", 1.2)
  .attr("fill", d => keyColor(yKey.invert(d + 0.5)));
keyGroup.selectAll("line")
  .data(keyStripes)
  .enter()
  .append("line")
  .attr("x1", keyLeft)
  .attr("x2", keyRight)
  .attr("y1", d => yKey(d))
  .attr("y2", d => yKey(d))
  .attr("stroke", "#fff")
  .attr("stroke-opacity", 0.22);

svg.append("g")
  .attr("transform", `translate(${keyRight + 5}, 0)`)
  .call(d3.axisRight(yKey).tickValues(scaleTicks).tickSize(0).tickFormat(String))
  .call(g => g.select(".domain").remove())
  .selectAll("text")
  .attr("font-size", 46)
  .attr("font-family", null)
  .attr("dy", "0.36em")
  .attr("x", 0);

// group labels
svg.append("text").attr("x", 1341).attr("y", 231).attr("font-size", 48).text("group");
svg.append("text").attr("x", 1441).attr("y", 277).attr("font-size", 48).text("group");

// group legend
const yLegend = d3.scaleBand().domain(legendGroups).range([303, 777]);
const legendNudge = [8, 12, 11, 13, 14, 17, 18, 15, 11];
const legendGroup = svg.append("g");
legendGroup.selectAll("rect")
  .data(legendGroups)
  .enter()
  .append("rect")
  .attr("x", 1450)
  .attr("y", d => yLegend(d))
  .attr("width", 51)
  .attr("height", yLegend.bandwidth() + 0.5)
  .attr("fill", d => groupColors[sampleGroups.indexOf(d)]);
legendGroup.selectAll("text")
  .data(legendGroups)
  .enter()
  .append("text")
  .attr("x", 1509)
  .attr("y", (d, i) => yLegend(d) + yLegend.bandwidth() / 2 + legendNudge[i])
  .attr("font-size", 46)
  .text(d => d);

// heatmap column labels
const sampleNudge = [23, 48, 30, 29, 45, 31, 48, 34, 37];
const sampleDrop = [1523, 1527, 1523, 1533, 1527, 1530, 1530, 1533, 1527];
svg.append("g").selectAll("text")
  .data(sampleGroups)
  .enter()
  .append("text")
  .attr("text-anchor", "end")
  .attr("font-size", 50)
  .attr("transform", (d, i) => `translate(${xGroup(d) + xGroup.bandwidth() / 2 + sampleNudge[i]}, ${sampleDrop[i]}) rotate(-30)`)
  .text(d => d);

// ---- panel B ----
const x0 = d3.scaleBand().domain(comparisons).range([2058, 3299]);
const x1 = d3.scaleBand().domain(seriesNames).range([-64.5, 64.5]).paddingInner(0.2);
const yDeg = d3.scaleLinear().domain([0, 8000]).range([1142, 190]);

const barRows = comparisons.map((c, i) => [upRegulated[i], downRegulated[i]]);
const barGroups = svg.append("g").selectAll("g")
  .data(comparisons)
  .enter()
  .append("g")
  .attr("transform", d => `translate(${x0(d) + x0.bandwidth() / 2}, 0)`);

barGroups.selectAll("rect")
  .data((d, i) => barRows[i])
  .enter()
  .append("rect")
  .attr("x", (d, i) => x1(seriesNames[i]))
  .attr("y", d => yDeg(d))
  .attr("width", x1.bandwidth())
  .attr("height", d => yDeg(0) - yDeg(d))
  .attr("fill", (d, i) => seriesColors[i]);

barGroups.selectAll("text")
  .data((d, i) => barRows[i])
  .enter()
  .append("text")
  .attr("x", (d, i) => x1(seriesNames[i]) + x1.bandwidth() / 2)
  .attr("y", d => yDeg(d) - 7)
  .attr("text-anchor", "middle")
  .attr("font-size", 40)
  .text(d => d);

// axes
const yAxis = svg.append("g")
  .attr("transform", "translate(2071, 0)")
  .call(d3.axisLeft(yDeg).tickValues(degTicks).tickSize(32).tickSizeOuter(0).tickPadding(7).tickFormat(String));
yAxis.select(".domain").attr("stroke-width", 5).attr("stroke-linecap", "square");
yAxis.selectAll(".tick line").attr("stroke-width", 5);
yAxis.selectAll(".tick text").attr("font-size", 53).attr("font-family", null);

const xAxis = svg.append("g")
  .attr("transform", "translate(0, 1142)")
  .call(d3.axisBottom(x0).tickSize(32).tickSizeOuter(0).tickPadding(0));
xAxis.select(".domain").attr("stroke-width", 5);
xAxis.selectAll(".tick line").attr("stroke-width", 4);
const comparisonNudge = [64, 57, 64, 55, 69, 71];
xAxis.selectAll(".tick text")
  .attr("font-size", 54)
  .attr("font-family", null)
  .attr("text-anchor", "end")
  .attr("dy", null)
  .attr("y", 0)
  .attr("transform", (d, i) => `translate(${comparisonNudge[i]}, 78) rotate(-35)`);

// y axis title
svg.append("text")
  .attr("transform", "translate(1871, 648) rotate(-90)")
  .attr("text-anchor", "middle")
  .attr("font-size", 54)
  .attr("xml:space", "preserve")
  .style("white-space", "pre")
  .text("Number of  DEGs");

// series legend
const yKeyB = d3.scaleBand().domain(seriesNames).range([195, 392]);
const legendB = svg.append("g");
legendB.selectAll("rect")
  .data(seriesNames)
  .enter()
  .append("rect")
  .attr("x", 2099)
  .attr("y", d => yKeyB(d))
  .attr("width", 78)
  .attr("height", 39)
  .attr("fill", (d, i) => seriesColors[i]);
legendB.selectAll("text")
  .data(seriesNames)
  .enter()
  .append("text")
  .attr("x", 2195)
  .attr("y", d => yKeyB(d) + 38)
  .attr("font-size", 56)
  .text(d => d);
</script>
</body>
</html>
